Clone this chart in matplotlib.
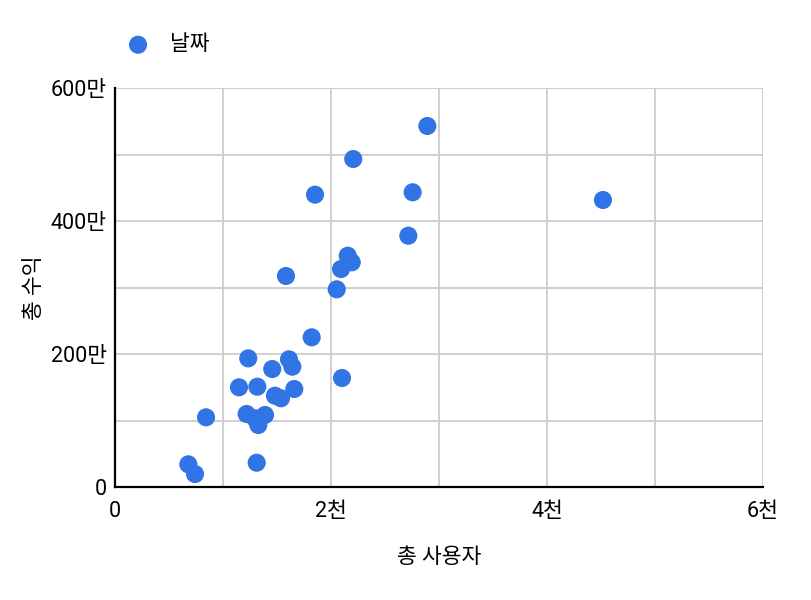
import numpy as np
import matplotlib.pyplot as plt
from matplotlib.ticker import FixedLocator

plt.rcParams['font.family'] = ['Roboto', 'Noto Sans CJK KR', 'DejaVu Sans']

# 총 사용자 / 총 수익
total_users = [679, 741, 843, 1148, 1219, 1234, 1318, 1312, 1296, 1327,
               1389, 1456, 1481, 1537, 1611, 1642, 1660, 1583, 1821, 1852,
               2053, 2093, 2155, 2192, 2102, 2206, 2716, 2756, 2892, 4518]
total_revenue = [341e3, 195e3, 1048e3, 1499e3, 1098e3, 1935e3, 1508e3, 365e3, 1033e3, 932e3,
                 1083e3, 1774e3, 1373e3, 1334e3, 1920e3, 1809e3, 1474e3, 3173e3, 2251e3, 4396e3,
                 2973e3, 3278e3, 3478e3, 3379e3, 1639e3, 4932e3, 3779e3, 4432e3, 5429e3, 4316e3]
series_name = '날짜'
x_ticks = [0, 2000, 4000, 6000]
x_tick_labels = ['0', '2천', '4천', '6천']
y_ticks = [0, 2e6, 4e6, 6e6]
y_tick_labels = ['0', '200만', '400만', '600만']

BLUE = '#3174e6'

fig = plt.figure(figsize=(8.12, 6), dpi=100)
ax = fig.add_axes([115 / 812, 1 - 487 / 600, 648 / 812, 399 / 600])

ax.scatter(total_users, total_revenue, s=170, color=BLUE, edgecolors='none',
           zorder=3, clip_on=False, label=series_name)

ax.set_xlim(0, 6000)
ax.set_ylim(0, 6e6)
ax.xaxis.set_major_locator(FixedLocator(x_ticks))
ax.yaxis.set_major_locator(FixedLocator(y_ticks))
ax.set_xticklabels(x_tick_labels)
ax.set_yticklabels(y_tick_labels)
ax.xaxis.set_minor_locator(FixedLocator(np.arange(1000, 6001, 2000)))
ax.yaxis.set_minor_locator(FixedLocator(np.arange(1e6, 6e6 + 1, 2e6)))
ax.grid(True, which='both', color='#cccccc', linewidth=1.3, zorder=0)
ax.tick_params(which='both', length=0, labelsize=15.5, colors='black')
ax.tick_params(axis='x', pad=10)
ax.tick_params(axis='y', pad=6)

for side in ['top', 'right']:
    ax.spines[side].set_visible(False)
for side in ['left', 'bottom']:
    ax.spines[side].set_linewidth(1.6)
    ax.spines[side].set_zorder(4)

ax.set_xlabel('총 사용자', fontsize=15.5, style='italic', labelpad=18)
ax.set_ylabel('총 수익', fontsize=15.5, style='italic', labelpad=4)

ax.legend(loc='upper left', bbox_to_anchor=(115 / 812 - 0.022, 1 - 15 / 600),
          bbox_transform=fig.transFigure, frameon=False, fontsize=15.5,
          handletextpad=0.5, markerscale=1.0)

fig.savefig('out.png', dpi=100)
